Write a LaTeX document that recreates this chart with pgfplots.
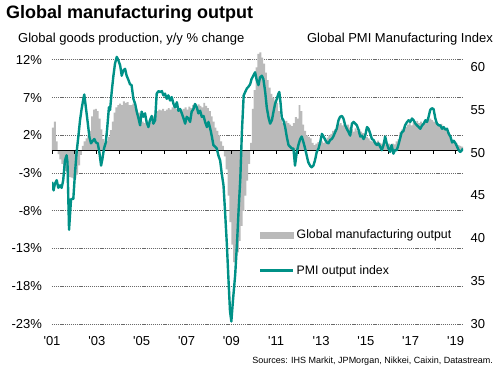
\documentclass[border=0pt]{standalone}
\usepackage{pgfplots}
\pgfplotsset{compat=1.18}
\usepackage{fontspec}
\setmainfont{Liberation Sans}
\definecolor{outgrey}{RGB}{186,186,186}
\definecolor{pmiteal}{RGB}{0,145,135}
\definecolor{gridgrey}{RGB}{105,105,105}
\begin{document}
\begin{tikzpicture}[x=1pt,y=1pt]
\useasboundingbox (0,0) rectangle (504,380);
\node[anchor=base west, font=\bfseries\fontsize{18}{20}\selectfont, inner sep=0] at (6,361.7) {Global manufacturing output};
\node[anchor=base west, font=\fontsize{13}{15}\selectfont, inner sep=0] at (18,337.3) {Global goods production, y/y \% change};
\node[anchor=base east, font=\fontsize{13}{15}\selectfont, inner sep=0] at (493,337.3) {Global PMI Manufacturing Index};
\node[anchor=base east, font=\fontsize{9}{10}\selectfont, inner sep=0] at (493,16.5) {Sources: IHS Markit, JPMorgan, Nikkei, Caixin, Datastream.};

\begin{axis}[at={(52pt,56pt)}, anchor=south west, scale only axis, width=411pt, height=274pt,
  xmin=0, xmax=220, ymin=-23, ymax=13.3,
  axis line style={draw=none},
  xtick={0,24,...,216},
  xticklabels={\textquotesingle01,\textquotesingle03,\textquotesingle05,\textquotesingle07,\textquotesingle09,\textquotesingle11,\textquotesingle13,\textquotesingle15,\textquotesingle17,\textquotesingle19},
  ytick={-23,-18,...,12},
  yticklabel={\pgfmathprintnumber{\tick}\%},
  /pgf/number format/assume math mode=true,
  ymajorgrids, grid style={gridgrey, dash pattern=on 1.2pt off 0.9pt, line width=0.7pt},
  major tick length=0pt,
  ticklabel style={font=\fontsize{13}{15}\selectfont},
  yticklabel style={xshift=-6.5pt},
  xticklabel style={yshift=-9pt},
]
\addplot[ybar, bar width=1.03, fill=outgrey, draw=none] coordinates {
(0.5,3.0) (1.5,3.8) (2.5,1.2) (3.5,-0.5) (4.5,-1.2) (5.5,-1.8) (6.5,-2.3) (7.5,-2.7) (8.5,-3.2) (9.5,-3.5) (10.5,-3.6) (11.5,-3.7)
(12.5,-3.7) (13.5,-3.2) (14.5,-2.0) (15.5,-0.6) (16.5,0.6) (17.5,1.2) (18.5,1.6) (19.5,2.0) (20.5,2.6) (21.5,4.5) (22.5,5.4) (23.5,5.5)
(24.5,5.2) (25.5,4.2) (26.5,2.8) (27.5,1.5) (28.5,1.0) (29.5,1.3) (30.5,1.8) (31.5,2.7) (32.5,3.8) (33.5,5.0) (34.5,5.7) (35.5,6.0)
(36.5,6.2) (37.5,6.0) (38.5,6.5) (39.5,6.3) (40.5,6.4) (41.5,6.0) (42.5,6.0) (43.5,6.2) (44.5,5.8) (45.5,5.4) (46.5,5.0) (47.5,4.4)
(48.5,3.8) (49.5,3.6) (50.5,3.9) (51.5,3.4) (52.5,3.6) (53.5,3.8) (54.5,4.5) (55.5,5.0) (56.5,5.2) (57.5,5.4) (58.5,5.3) (59.5,5.5)
(60.5,5.2) (61.5,5.4) (62.5,5.6) (63.5,5.4) (64.5,5.7) (65.5,5.9) (66.5,5.5) (67.5,5.8) (68.5,5.6) (69.5,5.3) (70.5,5.5) (71.5,5.7)
(72.5,5.4) (73.5,5.8) (74.5,5.6) (75.5,6.0) (76.5,6.2) (77.5,5.8) (78.5,6.1) (79.5,5.9) (80.5,5.7) (81.5,6.3) (82.5,5.9) (83.5,5.6)
(84.5,5.2) (85.5,4.5) (86.5,3.8) (87.5,3.0) (88.5,2.6) (89.5,2.0) (90.5,1.2) (91.5,0.6) (92.5,-0.8) (93.5,-2.5) (94.5,-6.0) (95.5,-9.5)
(96.5,-12.5) (97.5,-14.8) (98.5,-14.9) (99.5,-13.5) (100.5,-12.0) (101.5,-10.0) (102.5,-8.0) (103.5,-6.0) (104.5,-4.0) (105.5,-1.8) (106.5,1.0) (107.5,5.5)
(108.5,8.0) (109.5,11.0) (110.5,12.8) (111.5,13.0) (112.5,12.3) (113.5,11.5) (114.5,10.3) (115.5,9.3) (116.5,8.3) (117.5,7.5) (118.5,7.0) (119.5,6.6)
(120.5,6.3) (121.5,5.2) (122.5,4.2) (123.5,3.6) (124.5,3.8) (125.5,3.9) (126.5,3.6) (127.5,3.4) (128.5,3.2) (129.5,3.6) (130.5,4.4) (131.5,4.2)
(132.5,6.0) (133.5,5.2) (134.5,3.4) (135.5,2.6) (136.5,2.0) (137.5,1.8) (138.5,1.6) (139.5,1.0) (140.5,0.7) (141.5,0.9) (142.5,1.1) (143.5,1.0)
(144.5,1.2) (145.5,1.0) (146.5,1.4) (147.5,1.7) (148.5,2.0) (149.5,2.2) (150.5,2.6) (151.5,2.8) (152.5,3.1) (153.5,3.4) (154.5,3.6) (155.5,3.3)
(156.5,3.5) (157.5,3.2) (158.5,3.4) (159.5,3.0) (160.5,2.8) (161.5,2.5) (162.5,2.9) (163.5,2.6) (164.5,2.8) (165.5,2.5) (166.5,2.3) (167.5,2.2)
(168.5,1.8) (169.5,1.6) (170.5,1.3) (171.5,1.2) (172.5,1.4) (173.5,1.1) (174.5,1.3) (175.5,1.0) (176.5,0.9) (177.5,1.1) (178.5,0.8) (179.5,0.7)
(180.5,0.9) (181.5,0.7) (182.5,0.9) (183.5,0.8) (184.5,1.2) (185.5,1.5) (186.5,2.4) (187.5,2.8) (188.5,3.0) (189.5,3.1) (190.5,3.4) (191.5,3.6)
(192.5,3.3) (193.5,3.7) (194.5,3.6) (195.5,3.9) (196.5,3.6) (197.5,3.8) (198.5,3.5) (199.5,3.8) (200.5,3.9) (201.5,4.1) (202.5,4.2) (203.5,4.0)
(204.5,3.8) (205.5,3.6) (206.5,3.4) (207.5,3.3) (208.5,3.5) (209.5,3.2) (210.5,2.8) (211.5,2.6) (212.5,2.4) (213.5,1.5) (214.5,1.3) (215.5,1.1)
(216.5,1.0) (217.5,0.7) (218.5,0.6) (219.5,0.5)
};
\draw[black, line width=1.1pt] (axis cs:0,0) -- (axis cs:220,0);
\pgfplotsinvokeforeach{0,12,...,216}{\draw[black, line width=0.8pt] (axis cs:#1,0) -- ([yshift=-4pt]axis cs:#1,0);}
\end{axis}

\begin{axis}[at={(52pt,56pt)}, anchor=south west, scale only axis, width=411pt, height=274pt,
  xmin=2001, xmax=2019.3333, ymin=30, ymax=62,
  axis line style={draw=none},
  xtick=\empty,
  ytick={30,35,...,60}, yticklabel pos=right,
  /pgf/number format/assume math mode=true,
  major tick length=0pt,
  ticklabel style={font=\fontsize{13}{15}\selectfont},
  yticklabel style={xshift=4pt},
  legend style={at={(0.499,0.351)}, anchor=north west, draw=none, fill=none,
    font=\fontsize{12.3}{14}\selectfont, row sep=21pt, inner xsep=2pt, inner ysep=0pt},
  legend cell align=left,
]
\addlegendimage{legend image code/.code={\fill[outgrey] (0pt,-3pt) rectangle (33pt,3pt);}}
\addlegendentry{Global manufacturing output}
\addplot[pmiteal, line width=2.4pt, line join=round,
  legend image code/.code={\draw[pmiteal, line width=2.4pt] (0pt,0pt) -- (33pt,0pt);}] coordinates {
(2001.00,46.6) (2001.07,45.6) (2001.13,46.4) (2001.21,46.8) (2001.28,45.9) (2001.36,46.2) (2001.43,45.9) (2001.50,46.8) (2001.58,49.1) (2001.65,49.7) (2001.69,48.9) (2001.76,41.0) (2001.85,44.6) (2001.95,44.6)
(2002.03,47.8) (2002.10,50.1) (2002.18,52.0) (2002.25,53.8) (2002.32,55.1) (2002.40,56.3) (2002.44,56.8) (2002.52,55.1) (2002.59,53.6) (2002.67,51.8) (2002.74,51.1) (2002.82,51.4) (2002.89,51.6) (2002.96,51.2)
(2003.04,51.1) (2003.11,50.1) (2003.19,48.5) (2003.25,49.3) (2003.32,50.5) (2003.40,51.2) (2003.46,52.8) (2003.54,55.3) (2003.59,55.0) (2003.67,57.3) (2003.74,59.0) (2003.81,60.4) (2003.89,61.2) (2003.96,60.8)
(2004.04,60.2) (2004.11,59.0) (2004.18,59.6) (2004.26,59.8) (2004.33,59.0) (2004.41,58.5) (2004.48,58.0) (2004.55,57.9) (2004.63,56.3) (2004.71,55.7) (2004.78,54.8) (2004.86,54.0) (2004.93,53.2)
(2005.00,54.8) (2005.07,54.2) (2005.15,54.6) (2005.22,53.6) (2005.30,53.0) (2005.37,53.8) (2005.45,54.3) (2005.52,53.4) (2005.60,53.8) (2005.67,56.9) (2005.75,57.2) (2005.82,57.1) (2005.90,57.2) (2005.97,56.7)
(2006.04,56.9) (2006.12,56.3) (2006.19,56.7) (2006.27,56.1) (2006.34,56.5) (2006.42,55.7) (2006.49,55.3) (2006.57,55.9) (2006.64,54.9) (2006.72,55.1) (2006.79,54.6) (2006.87,54.0) (2006.94,53.4)
(2007.01,54.2) (2007.09,54.0) (2007.16,53.6) (2007.23,54.8) (2007.31,55.1) (2007.38,55.7) (2007.46,55.3) (2007.53,54.6) (2007.61,54.9) (2007.68,54.2) (2007.76,54.3) (2007.83,53.6) (2007.91,53.0) (2007.98,53.6)
(2008.06,52.8) (2008.13,51.9) (2008.20,50.9) (2008.28,50.7) (2008.35,50.5) (2008.42,49.7) (2008.50,49.1) (2008.57,47.6) (2008.65,46.2) (2008.72,43.1) (2008.80,39.3) (2008.87,35.3) (2008.94,31.5)
(2009.00,30.3) (2009.08,33.0) (2009.17,35.7) (2009.25,39.3) (2009.32,43.1) (2009.40,47.0) (2009.47,52.4) (2009.55,56.7) (2009.62,57.1) (2009.69,57.5) (2009.76,57.7) (2009.84,58.0) (2009.90,58.6) (2009.98,59.0)
(2010.06,59.4) (2010.13,58.5) (2010.21,57.9) (2010.28,58.8) (2010.36,59.0) (2010.43,58.6) (2010.51,57.1) (2010.58,55.3) (2010.66,54.1) (2010.73,53.4) (2010.81,53.8) (2010.88,54.8) (2010.95,55.7)
(2011.03,56.3) (2011.10,56.9) (2011.14,57.1) (2011.20,55.7) (2011.25,54.1) (2011.32,53.8) (2011.40,53.0) (2011.47,51.9) (2011.55,50.9) (2011.62,50.7) (2011.70,50.5) (2011.77,50.5) (2011.84,48.5) (2011.92,50.1) (2011.99,50.9)
(2012.07,51.6) (2012.14,51.9) (2012.22,51.2) (2012.29,50.5) (2012.36,49.7) (2012.43,48.9) (2012.51,48.5) (2012.58,48.3) (2012.66,48.5) (2012.73,49.1) (2012.81,50.1) (2012.89,50.5) (2012.96,51.2)
(2013.04,52.2) (2013.11,51.9) (2013.19,51.5) (2013.26,51.2) (2013.33,51.1) (2013.41,51.5) (2013.48,51.6) (2013.55,51.9) (2013.63,52.4) (2013.70,52.8) (2013.78,53.8) (2013.85,54.2) (2013.93,54.3)
(2014.00,54.0) (2014.08,53.2) (2014.15,52.8) (2014.23,52.4) (2014.30,52.0) (2014.38,53.4) (2014.45,53.6) (2014.53,53.4) (2014.60,53.2) (2014.67,52.7) (2014.75,51.9) (2014.82,52.0) (2014.90,51.6) (2014.97,52.0)
(2015.05,53.0) (2015.12,52.8) (2015.20,52.2) (2015.27,51.6) (2015.34,51.5) (2015.42,51.1) (2015.49,50.9) (2015.56,51.1) (2015.64,50.7) (2015.71,50.3) (2015.79,50.9) (2015.86,51.9) (2015.93,51.1)
(2016.01,50.5) (2016.08,50.1) (2016.15,50.9) (2016.23,49.9) (2016.30,50.3) (2016.38,50.3) (2016.45,50.9) (2016.52,51.6) (2016.60,52.4) (2016.67,52.5) (2016.75,53.2) (2016.84,53.6) (2016.91,53.8) (2016.98,53.6)
(2017.06,54.0) (2017.13,53.8) (2017.21,53.4) (2017.28,53.2) (2017.36,53.0) (2017.43,52.8) (2017.51,53.2) (2017.58,53.4) (2017.66,53.8) (2017.73,53.6) (2017.80,54.2) (2017.87,55.0) (2017.95,55.2)
(2018.02,55.1) (2018.10,54.0) (2018.17,53.4) (2018.25,53.2) (2018.32,53.2) (2018.40,52.8) (2018.47,53.0) (2018.55,52.7) (2018.62,52.8) (2018.70,52.2) (2018.77,51.9) (2018.85,51.2) (2018.92,51.4)
(2019.00,51.1) (2019.07,50.7) (2019.14,50.3) (2019.21,50.1) (2019.29,50.3) (2019.33,50.5)
};
\addlegendentry{PMI output index}
\end{axis}
\end{tikzpicture}
\end{document}
